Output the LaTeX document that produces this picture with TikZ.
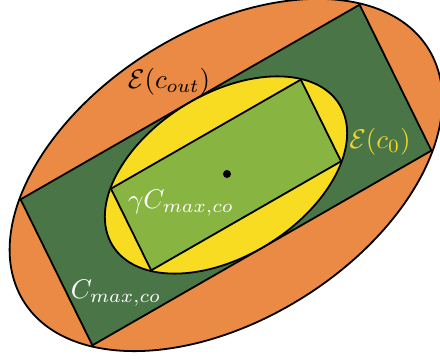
\documentclass[tikz,border=0pt]{standalone}
\definecolor{orangeF}{RGB}{234,138,69}
\definecolor{darkG}{RGB}{74,117,71}
\definecolor{yellowF}{RGB}{248,220,34}
\definecolor{lightG}{RGB}{136,180,66}
\definecolor{yellowT}{RGB}{240,214,40}
\tikzset{
  shapeline/.style={draw=black, line width=1.8pt, line join=round},
  lbl/.style={inner sep=0pt, scale=2.7, transform shape},
}
\begin{document}
\begin{tikzpicture}[x=1pt,y=1pt]
\useasboundingbox (0,0) rectangle (440,360);
\coordinate (c) at (226,185);
\begin{scope}[shift={(226,185)}, yscale=1.08, rotate=28]
  \def\g{0.56}
  \filldraw[shapeline, fill=orangeF] (0,0) ellipse [x radius=234, y radius=136.5];
  \filldraw[shapeline, fill=darkG] (-192,-76.5) rectangle (192,76.5);
  \filldraw[shapeline, fill=yellowF] (0,0) ellipse [x radius=\g*234, y radius=\g*136.5];
  \filldraw[shapeline, fill=lightG] (-\g*192,-\g*76.5) rectangle (\g*192,\g*76.5);
\end{scope}
\fill[black] (227,186) circle (4);
\node[lbl, text=black] (eout) at (169,278.5) {$\mathcal{E}(c_{out})$};
\node[lbl, text=yellowT] (ezero) at (380,218.5) {$\mathcal{E}(c_0)$};
\node[lbl, text=white] (gc) at (181,156.5) {$\gamma C_{max,co}$};
\node[lbl, text=white] (cm) at (116,66.5) {$C_{max,co}$};
\end{tikzpicture}
\end{document}
